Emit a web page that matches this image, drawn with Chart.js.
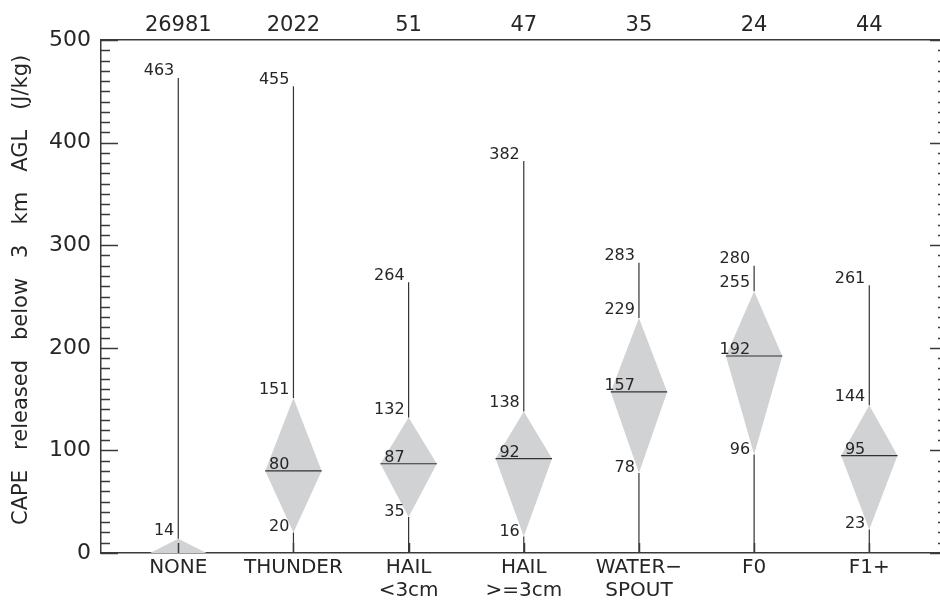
<!DOCTYPE html>
<html lang="en">
<head>
<meta charset="UTF-8">
<title>CAPE released below 3 km AGL</title>
<script src="https://cdn.jsdelivr.net/npm/chart.js"></script>
<style>
  html, body { margin: 0; padding: 0; background: #fff; }
  #wrap { width: 940px; height: 600px; }
</style>
</head>
<body>
<div id="wrap"><canvas id="cape"></canvas></div>
<script>
// categories and the numbers printed on the figure
const categories = ['NONE', 'THUNDER', ['HAIL', '<3cm'], ['HAIL', '>=3cm'], ['WATER\u2212', 'SPOUT'], 'F0', 'F1+'];
const counts   = [26981, 2022, 51, 47, 35, 24, 44];
const maxVals  = [463, 455, 264, 382, 283, 280, 261];
const upperQ   = [14, 151, 132, 138, 229, 255, 144];
const medians  = [0, 80, 87, 92, 157, 192, 95];
const lowerQ   = [0, 20, 35, 16, 78, 96, 23];
const minVals  = [0, 0, 0, 0, 0, 0, 0];
const showInner = [false, true, true, true, true, true, true]; // NONE has no median / lower label

const halfW = 0.245;          // diamond half width, in category units
const ink = '#262626';
const axisInk = '#3a3a3a';
const fam = "'DejaVu Sans', sans-serif";

// diamonds, one dataset each
const diamonds = categories.map((c, i) => ({
    type: 'line',
    data: [
        {x: i - halfW, y: medians[i]},
        {x: i, y: upperQ[i]},
        {x: i + halfW, y: medians[i]},
        {x: i, y: lowerQ[i]},
        {x: i - halfW, y: medians[i]}
    ],
    fill: 'shape',
    backgroundColor: '#d1d2d4',
    borderWidth: 0,
    pointRadius: 0,
    order: 2
}));

// whiskers: max -> upper quartile, lower quartile -> min
const whiskers = [];
categories.forEach((c, i) => {
    whiskers.push({x: i, y: maxVals[i]}, {x: i, y: upperQ[i]}, {x: i, y: null});
    whiskers.push({x: i, y: lowerQ[i]}, {x: i, y: minVals[i]}, {x: i, y: null});
});

// median bars
const medLines = [];
categories.forEach((c, i) => {
    if (!showInner[i]) return;
    medLines.push({x: i - halfW, y: medians[i]}, {x: i + halfW, y: medians[i]}, {x: i, y: null});
});

const annotate = {
    id: 'annotate',
    afterDatasetsDraw(chart) {
        const {ctx, chartArea: a, scales: {x, y}} = chart;
        ctx.save();
        ctx.strokeStyle = axisInk;
        ctx.lineWidth = 1.5;
        // y tick marks, left and right
        for (let v = 0; v <= 500; v += 10) {
            const py = Math.round(y.getPixelForValue(v)) + 0.5;
            const major = v % 100 === 0;
            ctx.beginPath();
            ctx.moveTo(a.left, py);
            ctx.lineTo(a.left + (major ? 17 : 9), py);
            ctx.moveTo(a.right, py);
            ctx.lineTo(a.right - (major ? 10 : 2), py);
            ctx.stroke();
        }
        // x tick marks
        categories.forEach((c, i) => {
            const px = Math.round(x.getPixelForValue(i)) + 0.5;
            ctx.beginPath();
            ctx.moveTo(px, a.bottom);
            ctx.lineTo(px, a.bottom - 10);
            ctx.stroke();
        });

        // value labels
        ctx.font = '16px ' + fam;
        ctx.fillStyle = ink;
        ctx.textAlign = 'right';
        ctx.textBaseline = 'alphabetic';
        const put = (val, i, lift) => {
            ctx.fillText(String(val), x.getPixelForValue(i) - 4, y.getPixelForValue(val) - lift);
        };
        categories.forEach((c, i) => {
            put(maxVals[i], i, 2.5);
            put(upperQ[i], i, 4);
            if (showInner[i]) {
                put(medians[i], i, 2);
                put(lowerQ[i], i, 1);
            }
        });
        ctx.restore();
    }
};

const xMin = -0.671, xMax = 6.614;
const catTicks = s => { s.ticks = categories.map((c, i) => ({value: i})); };

new Chart(document.getElementById('cape'), {
    type: 'scatter',
    data: {
        datasets: [
            ...diamonds,
            {
                type: 'line', data: whiskers, borderColor: '#333', borderWidth: 1.2,
                pointRadius: 0, fill: false, spanGaps: false, order: 1
            },
            {
                type: 'line', data: medLines, borderColor: '#333', borderWidth: 1.2,
                pointRadius: 0, fill: false, spanGaps: false, order: 0
            }
        ]
    },
    options: {
        responsive: true,
        maintainAspectRatio: false,
        animation: false,
        layout: {padding: 0},
        plugins: {legend: {display: false}, tooltip: {enabled: false}},
        scales: {
            x: {
                type: 'linear', position: 'bottom', min: xMin, max: xMax,
                afterBuildTicks: catTicks,
                afterFit: s => { s.height = 47; },
                grid: {display: false, drawTicks: false},
                border: {display: true, color: axisInk, width: 1.5},
                ticks: {
                    callback: v => categories[v],
                    autoSkip: false, maxRotation: 0, padding: 3,
                    color: ink, font: {family: fam, size: 20, lineHeight: 1.15}
                }
            },
            xTop: {
                type: 'linear', position: 'top', min: xMin, max: xMax,
                afterBuildTicks: catTicks,
                afterFit: s => { s.height = 40; },
                grid: {display: false, drawTicks: false},
                border: {display: true, color: axisInk, width: 1.5},
                ticks: {
                    callback: v => counts[v],
                    autoSkip: false, maxRotation: 0, padding: 2,
                    color: ink, font: {family: fam, size: 21}
                }
            },
            y: {
                min: 0, max: 500,
                afterFit: s => { s.width = 101; },
                grid: {display: false, drawTicks: false},
                border: {display: true, color: axisInk, width: 1.5},
                ticks: {stepSize: 100, padding: 10, color: ink, font: {family: fam, size: 22}},
                title: {
                    display: true,
                    text: '  CAPE   released   below   3   km   AGL   (J/kg)',
                    color: ink,
                    font: {family: fam, size: 21},
                    padding: {top: 9, bottom: 0}
                }
            }
        }
    },
    plugins: [annotate]
});
</script>
</body>
</html>
